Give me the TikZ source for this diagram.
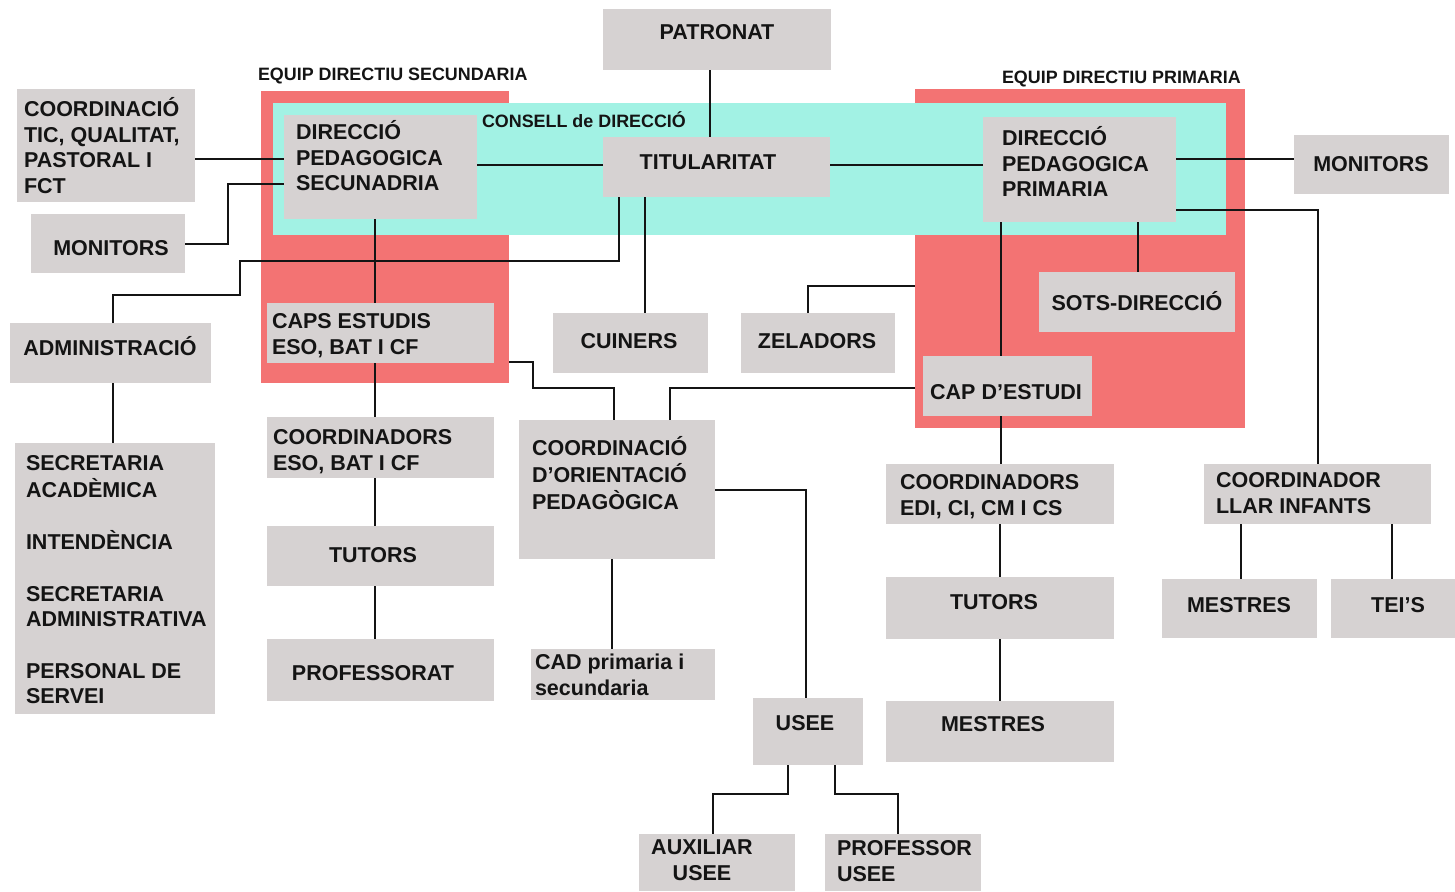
\documentclass[tikz,border=0pt]{standalone}
\usepackage{fontspec}
\setmainfont{Liberation Sans}
\usetikzlibrary{calc}
\definecolor{boxgrey}{RGB}{214,210,210}
\definecolor{redbg}{RGB}{243,115,115}
\definecolor{cyanbg}{RGB}{162,242,228}
\definecolor{inkc}{RGB}{20,20,20}
\newcommand{\mlL}[1]{\begin{tabular}[t]{@{}l@{}}#1\end{tabular}}
\newcommand{\mlC}[1]{\begin{tabular}[t]{@{}c@{}}#1\end{tabular}}
% box: name, x1, y1, x2, y2 (pixel coordinates)
\newcommand{\bx}[6][box]{\node[#1, minimum width={#5-#3}, minimum height={#6-#4}] (#2) at (#3,#4) {};}
\tikzset{
  box/.style={fill=boxgrey, inner sep=0pt, outer sep=0pt, anchor=north west},
  redarea/.style={fill=redbg, inner sep=0pt, outer sep=0pt, anchor=north west},
  cyanarea/.style={fill=cyanbg, inner sep=0pt, outer sep=0pt, anchor=north west},
  txt/.style={inner sep=0pt, outer sep=0pt, text=inkc},
  ctxt/.style={txt, anchor=base},
  ltxt/.style={txt, anchor=base west},
  lbl/.style={txt, anchor=base west, font=\fontsize{17.9}{21}\selectfont\bfseries},
  conn/.style={line width=2.7pt, draw=inkc}
}
\begin{document}
\begin{tikzpicture}[x=1pt, y=-1pt, font=\fontsize{21.5}{25.7}\selectfont\bfseries]
\useasboundingbox (0,0) rectangle (1455,891);
% background areas
\bx[redarea]{redS}{261}{91}{509}{383}
\bx[redarea]{redP}{915}{89}{1245}{428}
\bx[cyanarea]{cyan}{273}{103}{1226}{235}
% boxes
\bx{patronat}{603}{9}{831}{70}
\bx{titular}{603}{137}{830}{197}
\bx{dirsec}{284}{115}{477}{219}
\bx{dirprim}{983}{117}{1176}{222}
\bx{tic}{17}{89}{195}{202}
\bx{monL}{31}{214}{185}{273}
\bx{monR}{1294}{135}{1449}{194}
\bx{admin}{10}{323}{211}{383}
\bx{caps}{267}{303}{494}{363}
\bx{cuiners}{553}{313}{708}{373}
\bx{zeladors}{741}{313}{895}{373}
\bx{sots}{1039}{272}{1235}{332}
\bx{capest}{923}{356}{1092}{416}
\bx{secret}{15}{443}{215}{714}
\bx{coordeso}{267}{417}{494}{478}
\bx{tutorsL}{267}{526}{494}{586}
\bx{profess}{267}{639}{494}{701}
\bx{orient}{519}{420}{715}{559}
\bx{cad}{531}{649}{715}{700}
\bx{usee}{753}{698}{863}{765}
\bx{aux}{639}{834}{795}{891}
\bx{profusee}{825}{834}{981}{891}
\bx{coordedi}{886}{464}{1114}{524}
\bx{tutorsR}{886}{577}{1114}{639}
\bx{mestresR}{886}{701}{1114}{762}
\bx{coordllar}{1204}{464}{1431}{524}
\bx{mestresL}{1162}{579}{1317}{638}
\bx{teis}{1331}{579}{1455}{638}
% connectors
\draw[conn] (patronat.south -| 710,0) -- (titular.north -| 710,0);
\draw[conn] (dirsec.east |- 0,165) -- (titular.west |- 0,165);
\draw[conn] (titular.east |- 0,165) -- (dirprim.west |- 0,165);
\draw[conn] (tic.east |- 0,159) -- (dirsec.west |- 0,159);
\draw[conn] (monL.east |- 0,244) -- (228,244) -- (228,184) -- (dirsec.west |- 0,184);
\draw[conn] (admin.north -| 113,0) -- (113,295) -- (240,295) -- (240,261) -- (619,261) -- (titular.south -| 619,0);
\draw[conn] (dirsec.south -| 375,0) -- (caps.north -| 375,0);
\draw[conn] (caps.south -| 375,0) -- (coordeso.north -| 375,0);
\draw[conn] (coordeso.south -| 375,0) -- (tutorsL.north -| 375,0);
\draw[conn] (tutorsL.south -| 375,0) -- (profess.north -| 375,0);
\draw[conn] (admin.south -| 113,0) -- (secret.north -| 113,0);
\draw[conn] (titular.south -| 645,0) -- (cuiners.north -| 645,0);
\draw[conn] (zeladors.north -| 808,0) -- (808,286) -- (redP.west |- 0,286);
\draw[conn] (redS.east |- 0,362) -- (533,362) -- (533,388) -- (614,388) -- (orient.north -| 614,0);
\draw[conn] (redP.west |- 0,388) -- (670,388) -- (orient.north -| 670,0);
\draw[conn] (dirprim.south -| 1001,0) -- (capest.north -| 1001,0);
\draw[conn] (capest.south -| 1001,0) -- (coordedi.north -| 1001,0);
\draw[conn] (coordedi.south -| 1000,0) -- (tutorsR.north -| 1000,0);
\draw[conn] (tutorsR.south -| 1000,0) -- (mestresR.north -| 1000,0);
\draw[conn] (dirprim.south -| 1138,0) -- (sots.north -| 1138,0);
\draw[conn] (dirprim.east |- 0,159) -- (monR.west |- 0,159);
\draw[conn] (dirprim.east |- 0,210) -- (1318,210) -- (coordllar.north -| 1318,0);
\draw[conn] (coordllar.south -| 1241,0) -- (mestresL.north -| 1241,0);
\draw[conn] (coordllar.south -| 1392,0) -- (teis.north -| 1392,0);
\draw[conn] (orient.south -| 612,0) -- (cad.north -| 612,0);
\draw[conn] (orient.east |- 0,490) -- (806,490) -- (usee.north -| 806,0);
\draw[conn] (usee.south -| 788,0) -- (788,794) -- (713,794) -- (aux.north -| 713,0);
\draw[conn] (usee.south -| 835,0) -- (835,794) -- (898,794) -- (profusee.north -| 898,0);
% area labels
\node[lbl] (l-sec) at (258,80.4) {EQUIP DIRECTIU SECUNDARIA};
\node[lbl] (l-prim) at (1002,83.4) {EQUIP DIRECTIU PRIMARIA};
\node[lbl] (l-consell) at (482,127.4) {CONSELL de DIRECCIÓ};
% single-line texts
\node[ctxt] (t-patronat) at (717,39.5) {PATRONAT};
\node[ctxt] (t-titular) at (708,169.5) {TITULARITAT};
\node[ctxt] (t-monL) at (111,255.5) {MONITORS};
\node[ctxt] (t-monR) at (1371,171.5) {MONITORS};
\node[ctxt] (t-admin) at (110,355.5) {ADMINISTRACIÓ};
\node[ctxt] (t-cuiners) at (629,348.5) {CUINERS};
\node[ctxt] (t-zeladors) at (817,348.5) {ZELADORS};
\node[ctxt] (t-sots) at (1137,310.5) {SOTS-DIRECCIÓ};
\node[ctxt] (t-capest) at (1006,399.5) {CAP D’ESTUDI};
\node[ctxt] (t-tutorsL) at (373,562.5) {TUTORS};
\node[ctxt] (t-profess) at (373,680.5) {PROFESSORAT};
\node[ctxt] (t-usee) at (805,730.5) {USEE};
\node[ctxt] (t-tutorsR) at (994,609.5) {TUTORS};
\node[ctxt] (t-mestresR) at (993,731.5) {MESTRES};
\node[ctxt] (t-mestresL) at (1239,612.5) {MESTRES};
\node[ctxt] (t-teis) at (1398,612.5) {TEI’S};
% multi-line texts
\node[ltxt] (t-tic) at (24,116.5) {\mlL{COORDINACIÓ\\TIC, QUALITAT,\\PASTORAL I\\FCT}};
\node[ltxt] (t-dirsec) at (296,139.5) {\mlL{DIRECCIÓ\\PEDAGOGICA\\SECUNADRIA}};
\node[ltxt] (t-dirprim) at (1002,145.5) {\mlL{DIRECCIÓ\\PEDAGOGICA\\PRIMARIA}};
\node[ltxt] (t-caps) at (272,328.5) {\mlL{CAPS ESTUDIS\\ESO, BAT I CF}};
\node[ltxt] (t-secret) at (26,470.5) {\mlL{SECRETARIA\\ACADÈMICA\\[25.7pt]INTENDÈNCIA\\[25.7pt]SECRETARIA\\ADMINISTRATIVA\\[25.7pt]PERSONAL DE\\SERVEI}};
\node[ltxt] (t-coordeso) at (273,444.5) {\mlL{COORDINADORS\\ESO, BAT I CF}};
\node[ltxt] (t-orient) at (532,455.5) {\mlL{COORDINACIÓ\\D’ORIENTACIÓ\\PEDAGÒGICA}};
\node[ltxt] (t-cad) at (535,669.5) {\mlL{CAD primaria i\\secundaria}};
\node[ctxt] (t-aux) at (702,854.5) {\mlC{AUXILIAR\\USEE}};
\node[ltxt] (t-profusee) at (837,855.5) {\mlL{PROFESSOR\\USEE}};
\node[ltxt] (t-coordedi) at (900,489.5) {\mlL{COORDINADORS\\EDI, CI, CM I CS}};
\node[ltxt] (t-coordllar) at (1216,487.5) {\mlL{COORDINADOR\\LLAR INFANTS}};
\end{tikzpicture}
\end{document}
